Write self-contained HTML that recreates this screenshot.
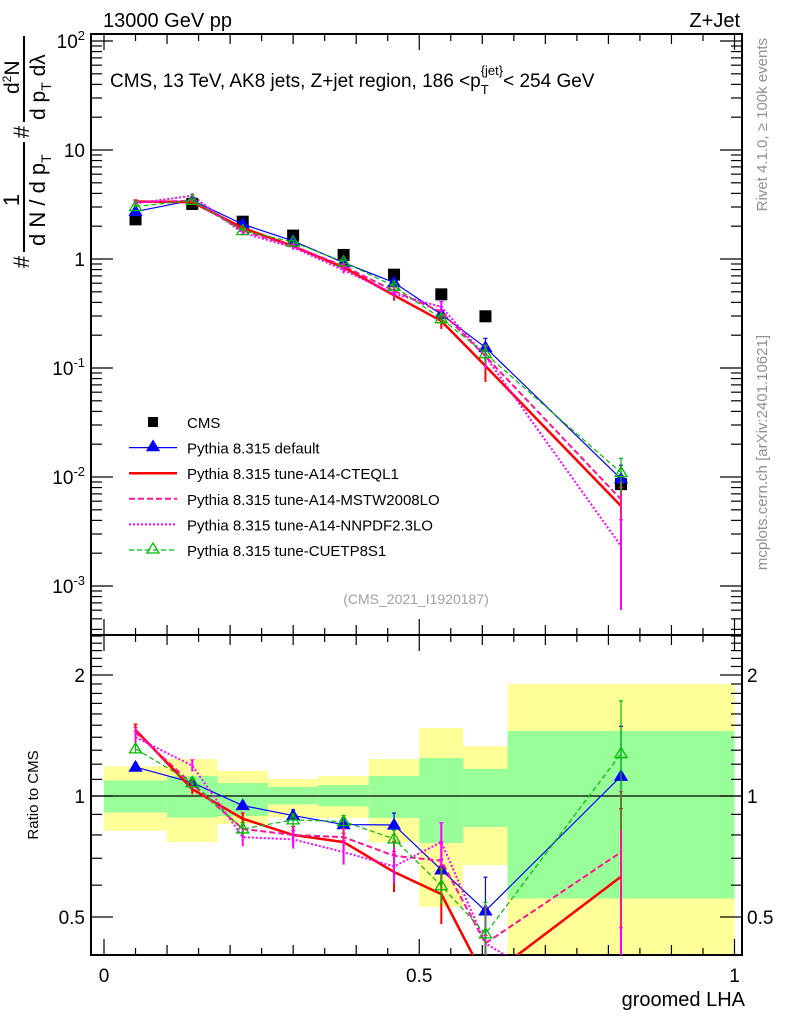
<!DOCTYPE html>
<html><head><meta charset="utf-8"><style>
html,body{margin:0;padding:0;background:#fff;width:786px;height:1024px;overflow:hidden;}
svg{display:block;font-family:"Liberation Sans",Arial,sans-serif;}
</style></head><body>
<svg id="chart" width="786" height="1024" viewBox="0 0 786 1024" xmlns="http://www.w3.org/2000/svg" overflow="hidden">
<g id="bands"></g>
<g id="grid"></g>
<g id="series"></g>
<text x="103" y="27" font-size="20">13000 GeV pp</text>
<text x="740" y="27" font-size="20" text-anchor="end">Z+Jet</text>
<text x="110" y="87" font-size="19">CMS, 13 TeV, AK8 jets, Z+jet region, 186 &lt;p<tspan font-size="13" dy="7">T</tspan><tspan font-size="13" dx="-8" dy="-19">{jet}</tspan><tspan dy="12">&lt; 254 GeV</tspan></text>
<text x="416" y="604" font-size="14" fill="#a0a0a0" text-anchor="middle">(CMS_2021_I1920187)</text>
<text transform="translate(767,38) rotate(-90)" font-size="15" fill="#909090" text-anchor="end">Rivet 4.1.0, ≥ 100k events</text>
<text transform="translate(767,335) rotate(-90)" font-size="15" fill="#909090" text-anchor="end">mcplots.cern.ch [arXiv:2401.10621]</text>
<text x="745" y="1006" font-size="20" text-anchor="end">groomed LHA</text>
<text transform="translate(38,795) rotate(-90)" font-size="15" text-anchor="middle">Ratio to CMS</text>
<g id="ylabel" font-size="22">
<text transform="translate(29,262) rotate(-90)" text-anchor="middle">#</text>
<text transform="translate(19,200) rotate(-90)" text-anchor="middle">1</text>
<line x1="24" y1="142" x2="24" y2="252" stroke="#000" stroke-width="2"/>
<text transform="translate(45,246) rotate(-90)">d N / d p<tspan font-size="14" dy="6">T</tspan></text>
<text transform="translate(29,132) rotate(-90)" text-anchor="middle">#</text>
<line x1="24" y1="36" x2="24" y2="122" stroke="#000" stroke-width="2"/>
<text transform="translate(19,94) rotate(-90)" font-size="21">d<tspan font-size="12" dy="-8">2</tspan><tspan dy="8">N</tspan></text>
<text transform="translate(45,120) rotate(-90)" font-size="21">d p<tspan font-size="14" dy="6">T</tspan><tspan dy="-6"> dλ</tspan></text>
</g>
<g id="legend"></g>
</svg>
<script>
const binEdges=[0,0.1,0.18,0.26,0.34,0.42,0.5,0.57,0.64,1.0];
const binCenters=[0.05,0.14,0.22,0.30,0.38,0.46,0.535,0.605,0.82];
const cmsValues=[2.31,3.2,2.2,1.64,1.09,0.718,0.474,0.298,0.0086];
const ratioDefault=[1.18,1.08,0.947,0.894,0.849,0.847,0.655,0.518,1.12];
const ratioCTEQL1=[1.46,1.04,0.878,0.80,0.768,0.647,0.57,0.35,0.63];
const ratioMSTW=[1.44,1.07,0.828,0.80,0.79,0.71,0.69,0.43,0.725];
const ratioNNPDF=[1.40,1.19,0.79,0.78,0.725,0.668,0.768,0.43,0.27];
const ratioCUETP8S1=[1.31,1.08,0.828,0.872,0.864,0.782,0.598,0.454,1.275];
const errDefault=[0.03,0.02,0.02,0.03,0.03,0.06,0.04,0.11,0.37];
const errCTEQL1=[0.05,0.03,0.03,0.04,0.04,0.07,0.09,0.1,0.3];
const errMSTW=[0.04,0.03,0.03,0.04,0.04,0.06,0.08,0.1,0.3];
const errNNPDF=[0.05,0.04,0.04,0.04,0.05,0.06,0.09,0.1,0.2];
const errCUETP8S1=[0.03,0.03,0.03,0.03,0.03,0.04,0.06,0.09,0.45];
const totalUp=[1.185,1.236,1.154,1.102,1.121,1.236,1.476,1.331,1.899];
const totalDown=[0.820,0.768,0.852,0.884,0.882,0.768,0.530,0.673,0.30];
const statUp=[1.093,1.121,1.077,1.053,1.065,1.121,1.243,1.168,1.451];
const statDown=[0.910,0.884,0.892,0.953,0.942,0.882,0.764,0.837,0.556];
const mainTickLabels=["10^-3","10^-2","10^-1","1","10","10^2"];
const ratioTickLabels=["0.5","1","2"];
const xTickLabels=["0","0.5","1"];

const NS="http://www.w3.org/2000/svg";
const L=91,R=742,MT=34,MB=635,RB=955;
const X=v=>104+630.5*v;
const YM=v=>259-109*Math.log10(v);
const YR=v=>796-121*Math.log2(v);
function mk(tag,attrs,parent){const e=document.createElementNS(NS,tag);for(const k in attrs)e.setAttribute(k,attrs[k]);parent.appendChild(e);return e;}
const clampR=y=>Math.max(MB,Math.min(RB,y));

const bands=document.getElementById('bands');
for(let i=0;i<cmsValues.length;i++){
  const x0=X(binEdges[i]),x1=X(binEdges[i+1]);
  let e=mk('rect',{x:x0,y:clampR(YR(totalUp[i])),width:x1-x0,height:clampR(YR(totalDown[i]))-clampR(YR(totalUp[i])),fill:'#ffff99'},bands);
  
  
  e=mk('rect',{x:x0,y:clampR(YR(statUp[i])),width:x1-x0,height:clampR(YR(statDown[i]))-clampR(YR(statUp[i])),fill:'#99ff99'},bands);
  
  
}

const g=document.getElementById('grid');
mk('line',{x1:L,y1:YR(1),x2:R,y2:YR(1),stroke:'#000','stroke-width':1.2},g);
[[MT,MB],[MB,RB]].forEach(([t,b])=>{mk('rect',{x:L,y:t,width:R-L,height:b-t,fill:'none',stroke:'#000','stroke-width':2},g);});
function tick(x1,y1,x2,y2){mk('line',{x1,y1,x2,y2,stroke:'#000','stroke-width':1.2},g);}
for(let k=0;k<=20;k++){const v=k*0.05,x=X(v);const len=(k%10==0)?16:(k%2==0?10:7);
  [[MT,1],[MB,-1],[MB,1],[RB,-1]].forEach(([y,d])=>tick(x,y,x,y+d*len));}
xTickLabels.forEach((t,i)=>{const e=mk('text',{x:X(i*0.5),y:982,'font-size':19,'text-anchor':'middle'},g);e.textContent=t;
  });
for(let d=-4;d<=2;d++){for(let m=1;m<=9;m++){const v=m*Math.pow(10,d),y=YM(v);if(y<MT||y>MB)continue;
  const len=m==1?22:11;tick(L,y,L+len,y);tick(R,y,R-len,y);}}
mainTickLabels.forEach((t,i)=>{const d=i-3,y=YM(Math.pow(10,d));const e=mk('text',{x:85,y:y+7,'font-size':19,'text-anchor':'end'},g);
  
  if(t.includes('^')){const [b,p]=t.split('^');e.textContent=b;const s=mk('tspan',{'font-size':13,dy:-8},e);s.textContent=p;}else e.textContent=t;});
[0.4,0.5,0.6,0.7,0.8,0.9,1,1.1,1.2,1.3,1.4,1.5,1.6,1.7,1.8,1.9,2,2.1,2.2,2.3,2.4,2.5].forEach(v=>{const y=YR(v);if(y<MB||y>RB)return;
  const len=(v==0.5||v==1||v==2)?22:11;tick(L,y,L+len,y);tick(R,y,R-len,y);});
ratioTickLabels.forEach(t=>{const y=YR(parseFloat(t));
  let e=mk('text',{x:85,y:y+7,'font-size':19,'text-anchor':'end'},g);e.textContent=t;
  e=mk('text',{x:747,y:y+7,'font-size':19},g);e.textContent=t;});

const S=document.getElementById('series');
const series=[
 {name:'pythia-default',r:ratioDefault,e:errDefault,c:'#0000ff',w:1.2,dash:'',mk:'tri'},
 {name:'pythia-cteql1',r:ratioCTEQL1,e:errCTEQL1,c:'#ff0000',w:2.5,dash:'',mk:''},
 {name:'pythia-mstw2008lo',r:ratioMSTW,e:errMSTW,c:'#ff1493',w:2,dash:'6,3',mk:''},
 {name:'pythia-nnpdf23lo',r:ratioNNPDF,e:errNNPDF,c:'#ff00ff',w:2,dash:'2,2',mk:''},
 {name:'pythia-cuetp8s1',r:ratioCUETP8S1,e:errCUETP8S1,c:'#00bb00',w:1.2,dash:'5,3',mk:'otri'}
];
const defs=mk('defs',{},S);
const c1=mk('clipPath',{id:'cm'},defs);mk('rect',{x:L,y:MT,width:R-L,height:MB-MT},c1);
const c2=mk('clipPath',{id:'cr'},defs);mk('rect',{x:L,y:MB,width:R-L,height:RB-MB},c2);
function tri(parent,x,y,col,open){return mk('path',{d:`M${x},${y-6}L${x+6},${y+4}L${x-6},${y+4}Z`,fill:open?'none':col,stroke:col,'stroke-width':1.3},parent);}
const cg=mk('g',{'clip-path':'url(#cm)'},S);

cmsValues.forEach((v,i)=>{const e=mk('rect',{x:X(binCenters[i])-6,y:YM(v)-6,width:12,height:12,fill:'#000'},cg);
  });
series.forEach(s=>{
  [['cm',i=>cmsValues[i]*s.r[i],v=>YM(v),MT,MB],['cr',i=>s.r[i],v=>YR(v),MB,RB]].forEach(([clip,val,Y,t,b],pi)=>{
    const gg=mk('g',{'clip-path':`url(#${clip})`},S);
    
    
    const pts=binCenters.map((x,i)=>X(x)+','+Y(val(i))).join(' ');
    const pl=mk('polyline',{points:pts,fill:'none',stroke:s.c,'stroke-width':s.w,'stroke-dasharray':s.dash},gg);
    
    
    binCenters.forEach((x,i)=>{const v=val(i),rel=s.e[i]/s.r[i];
      const y1=Math.max(Y(v*(1+rel)),t),y2=Math.min(Y(Math.max(v*(1-rel),1e-6)),b);
      const px=X(x);
      mk('line',{x1:px,y1:y1,x2:px,y2:y2,stroke:s.c,'stroke-width':s.w>1.5?2:1.2},gg);
      mk('line',{x1:px-2,y1:y1,x2:px+2,y2:y1,stroke:s.c,'stroke-width':1.2},gg);
      if(s.mk){const m=tri(gg,px,Y(v),s.c,s.mk=='otri');
        
        }
    });
  });
});

const lg=document.getElementById('legend');
const entries=[['CMS','sq','#000',0,''],['Pythia 8.315 default','tri','#0000ff',1.2,''],['Pythia 8.315 tune-A14-CTEQL1','','#ff0000',2.5,''],
 ['Pythia 8.315 tune-A14-MSTW2008LO','','#ff1493',2,'6,3'],['Pythia 8.315 tune-A14-NNPDF2.3LO','','#ff00ff',2,'2,2'],['Pythia 8.315 tune-CUETP8S1','otri','#00bb00',1.2,'5,3']];
entries.forEach((en,i)=>{const y=422+i*25.6;
  const eg=mk('g',{},lg);
  
  
  if(en[1]=='sq')mk('rect',{x:148,y:y-5,width:10,height:10,fill:'#000'},eg);
  else{mk('line',{x1:129,y1:y,x2:177,y2:y,stroke:en[2],'stroke-width':en[3],'stroke-dasharray':en[4]},eg);
    if(en[1])tri(eg,153,y-1,en[2],en[1]=='otri');}
  const t=mk('text',{x:187,y:y+6,'font-size':15},eg);t.textContent=en[0];});
</script>
</body></html>
